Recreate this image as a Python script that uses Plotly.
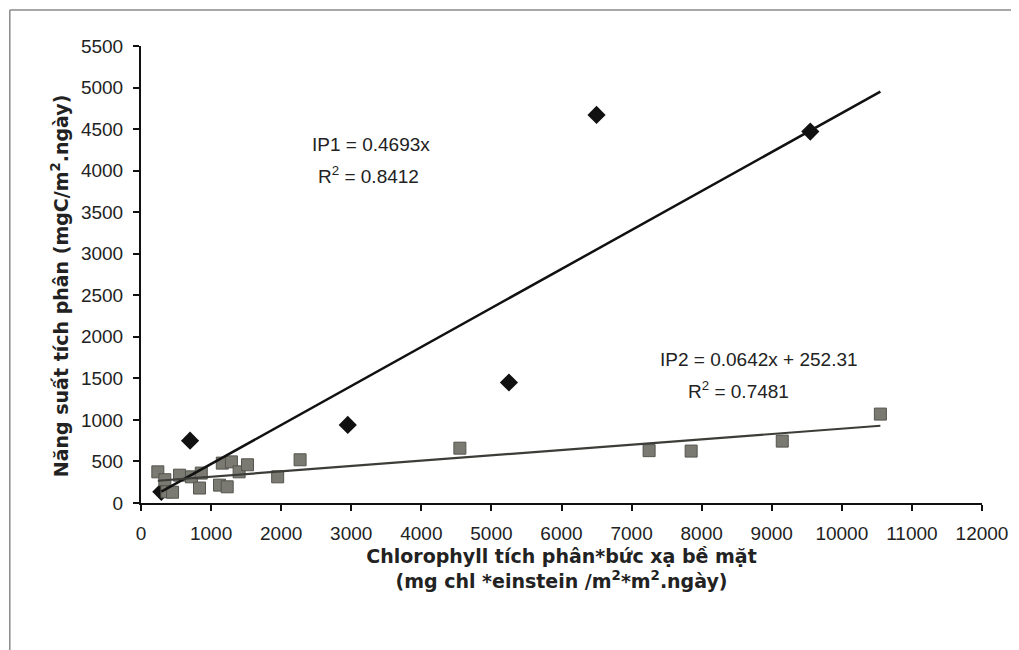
import plotly.graph_objects as go

# IP1 data (diamonds)
ip1_x = [290, 700, 2950, 5250, 6500, 9550]
ip1_y = [135, 750, 940, 1450, 4670, 4470]

# IP2 data (squares)
ip2_x = [240, 340, 370, 450, 550, 720, 860, 835, 1120, 1230, 1160, 1290, 1400, 1520,
         1950, 2270, 4550, 7250, 7850, 9150, 10550]
ip2_y = [375, 280, 135, 130, 335, 315, 360, 180, 215, 195, 480, 495, 375, 460,
         315, 520, 660, 630, 625, 745, 1070]

# trend line coefficients
ip1_slope = 0.4693
ip2_slope, ip2_inter = 0.0642, 252.31

x_ticks = list(range(0, 12001, 1000))
y_ticks = list(range(0, 5501, 500))

fnt = "Liberation Sans, Arial, sans-serif"
tfnt = "DejaVu Sans, sans-serif"

fig = go.Figure()
fig.add_trace(go.Scatter(x=ip1_x, y=ip1_y, mode="markers",
                         marker=dict(symbol="diamond", size=14, color="#111111"),
                         showlegend=False))
fig.add_trace(go.Scatter(x=ip2_x, y=ip2_y, mode="markers",
                         marker=dict(symbol="square", size=12, color="#7a7a72",
                                     line=dict(color="#55554f", width=1)),
                         showlegend=False))
x1 = [min(ip1_x), max(ip2_x)]
fig.add_trace(go.Scatter(x=x1, y=[ip1_slope * v for v in x1], mode="lines",
                         line=dict(color="#111111", width=2.5), showlegend=False))
x2 = [min(ip2_x), max(ip2_x)]
fig.add_trace(go.Scatter(x=x2, y=[ip2_slope * v + ip2_inter for v in x2], mode="lines",
                         line=dict(color="#3c3c38", width=2.2), showlegend=False))

ann = dict(showarrow=False, font=dict(family=fnt, size=19, color="#222222"),
           xref="x", yref="y")
fig.add_annotation(x=3280, y=4320, text="IP1 = 0.4693x", **ann)
fig.add_annotation(x=3250, y=3950, text="R<sup>2</sup> = 0.8412", **ann)
fig.add_annotation(x=8816, y=1733, text="IP2 = 0.0642x + 252.31", **ann)
fig.add_annotation(x=8530, y=1360, text="R<sup>2</sup> = 0.7481", **ann)

# y-axis title
fig.add_annotation(xref="paper", yref="paper", x=-0.096, y=0.475, textangle=-90,
                   showarrow=False, xanchor="center", yanchor="middle",
                   text="<b>Năng suất tích phân (mgC/m<sup>2</sup>.ngày)</b>",
                   font=dict(family=tfnt, size=19, color="#222222"))

fig.update_layout(
    width=1019, height=650,
    margin=dict(l=133, r=45, t=38, b=155),
    paper_bgcolor="white", plot_bgcolor="white",
    font=dict(family=fnt, size=19, color="#222222"),
    xaxis=dict(range=[0, 12000], tickvals=x_ticks, ticktext=[str(v) for v in x_ticks],
               ticks="outside", ticklen=6, ticklabelstandoff=6,
               tickwidth=2, tickcolor="#111", showline=True, linecolor="#111",
               linewidth=2, showgrid=False, zeroline=False,
               tickfont=dict(size=19),
               title=dict(text="<b>Chlorophyll tích phân*bức xạ bề mặt<br>(mg chl *einstein /m<sup>2</sup>*m<sup>2</sup>.ngày)</b>",
                          font=dict(family=tfnt, size=19), standoff=7)),
    yaxis=dict(range=[0, 5500], tickvals=y_ticks, ticktext=[str(v) for v in y_ticks],
               ticks="outside", ticklen=6, ticklabelstandoff=6,
               tickwidth=2, tickcolor="#111", showline=True, linecolor="#111",
               linewidth=2, showgrid=False, zeroline=False,
               tickfont=dict(size=19)),
)

# outer frame (top and left edges visible)
fig.add_shape(type="line", xref="paper", yref="paper", x0=-0.156, x1=1.1,
              y0=1.079, y1=1.079, line=dict(color="#8a8a8a", width=1.5))
fig.add_shape(type="line", xref="paper", yref="paper", x0=-0.156, x1=-0.156,
              y0=1.079, y1=-0.35, line=dict(color="#8a8a8a", width=1.5))

fig.write_html("out.html")
